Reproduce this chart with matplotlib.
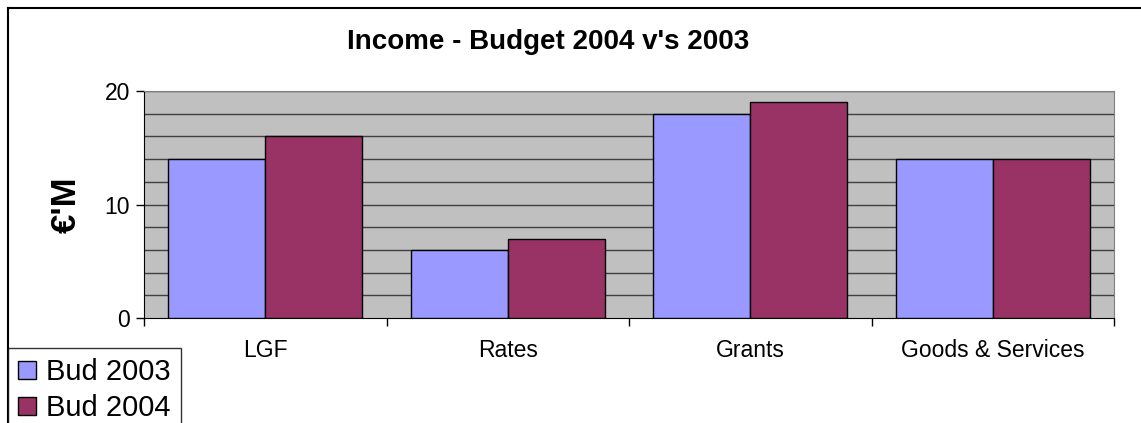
import matplotlib.pyplot as plt
import numpy as np
from matplotlib.lines import Line2D
from matplotlib.patches import Patch

# Data ------------------------------------------------------------
categories = ["LGF", "Rates", "Grants", "Goods & Services"]
bud_2003 = [14, 6, 18, 14]
bud_2004 = [16, 7, 19, 14]
series_names = ["Bud 2003", "Bud 2004"]
y_ticks = [0, 10, 20]

# Styles ----------------------------------------------------------
col_2003 = "#9999FF"
col_2004 = "#993366"
plot_bg = "#C0C0C0"
grid_col = "#404040"

plt.rcParams['font.family'] = ['Liberation Sans', 'DejaVu Sans']

fig = plt.figure(figsize=(11.41, 4.23), dpi=100)
W, H = 1141, 423

# Figure border (top and left visible, rest clipped)
fig.add_artist(Line2D([8 / W, 8 / W], [0, 1 - 8 / H], color="black", lw=1.5))
fig.add_artist(Line2D([8 / W, 1], [1 - 8 / H, 1 - 8 / H], color="black", lw=1.5))

ax = fig.add_axes([144 / W, 1 - 318 / H, (1114 - 144) / W, (318 - 91) / H])
ax.set_facecolor(plot_bg)

x = np.arange(len(categories))
bw = 0.4
ax.bar(x - bw / 2, bud_2003, bw, color=col_2003, edgecolor="black", linewidth=1, zorder=3)
ax.bar(x + bw / 2, bud_2004, bw, color=col_2004, edgecolor="black", linewidth=1, zorder=3)

ax.set_xlim(-0.5, len(categories) - 0.5)
ax.set_ylim(0, 20)

# Horizontal gridlines every 2
for g in range(2, 21, 2):
    ax.axhline(g, color=grid_col, lw=1, zorder=1)

ax.set_yticks(y_ticks)
ax.set_yticklabels([str(t) for t in y_ticks], fontsize=16.5)
ax.tick_params(axis="y", direction="out", length=6, width=1, pad=4)

# x ticks at group boundaries, labels centered
ax.set_xticks(np.arange(-0.5, len(categories), 1.0))
ax.set_xticklabels([])
ax.set_xticks(x, minor=True)
ax.set_xticklabels(categories, minor=True, fontsize=16.5)
ax.tick_params(axis="x", which="major", direction="out", length=6, width=1)
ax.tick_params(axis="x", which="minor", length=0, pad=15)

for side in ["top", "right"]:
    ax.spines[side].set_color("#808080")
ax.spines["left"].set_color("black")
ax.spines["bottom"].set_color("black")

fig.text(66 / W, 1 - 205 / H, "€'M", rotation=90, ha="center", va="center",
         fontsize=25, fontweight="bold")

fig.text(548 / W, 1 - 42 / H, "Income - Budget 2004 v's 2003", ha="center", va="center",
         fontsize=20, fontweight="bold")

handles = [Patch(facecolor=col_2003, edgecolor="black"), Patch(facecolor=col_2004, edgecolor="black")]
leg = fig.legend(handles, series_names, loc="upper left", bbox_to_anchor=(8 / W, 1 - 348 / H),
                 fontsize=21, frameon=True, fancybox=False, edgecolor="black",
                 handlelength=0.6, handleheight=0.6, handletextpad=0.35,
                 borderpad=0.35, labelspacing=0.28, borderaxespad=0)
leg.get_frame().set_linewidth(1)

fig.savefig("out.png", dpi=100)
